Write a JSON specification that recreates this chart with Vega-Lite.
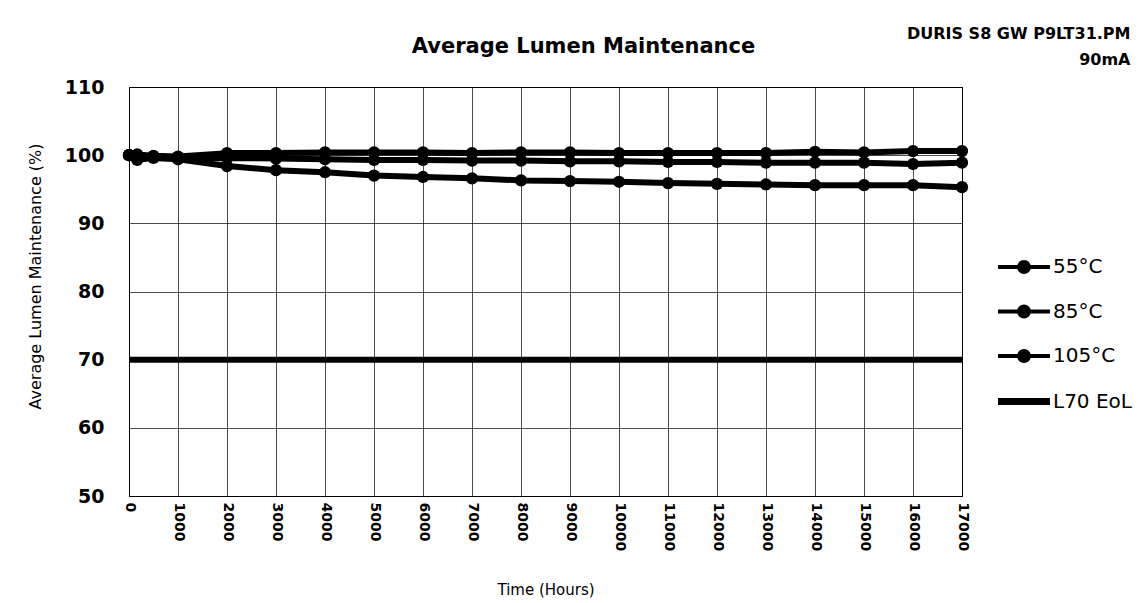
{
  "$schema": "https://vega.github.io/schema/vega-lite/v6.json",
  "width": 833,
  "height": 409,
  "autosize": {"type": "none"},
  "padding": {"left": 129, "top": 87, "right": 183, "bottom": 107},
  "background": "white",
  "config": {"view": {"stroke": "black", "strokeWidth": 1}, "font": "DejaVu Sans"},
  "data": {"values": [
    {"series": "55°C", "hours": 0, "pct": 100.0},
    {"series": "55°C", "hours": 168, "pct": 100.1},
    {"series": "55°C", "hours": 500, "pct": 99.9},
    {"series": "55°C", "hours": 1000, "pct": 99.8},
    {"series": "55°C", "hours": 2000, "pct": 100.3},
    {"series": "55°C", "hours": 3000, "pct": 100.3},
    {"series": "55°C", "hours": 4000, "pct": 100.4},
    {"series": "55°C", "hours": 5000, "pct": 100.4},
    {"series": "55°C", "hours": 6000, "pct": 100.4},
    {"series": "55°C", "hours": 7000, "pct": 100.3},
    {"series": "55°C", "hours": 8000, "pct": 100.4},
    {"series": "55°C", "hours": 9000, "pct": 100.4},
    {"series": "55°C", "hours": 10000, "pct": 100.3},
    {"series": "55°C", "hours": 11000, "pct": 100.3},
    {"series": "55°C", "hours": 12000, "pct": 100.3},
    {"series": "55°C", "hours": 13000, "pct": 100.3},
    {"series": "55°C", "hours": 14000, "pct": 100.5},
    {"series": "55°C", "hours": 15000, "pct": 100.4},
    {"series": "55°C", "hours": 16000, "pct": 100.6},
    {"series": "55°C", "hours": 17000, "pct": 100.6},
    {"series": "85°C", "hours": 0, "pct": 100.0},
    {"series": "85°C", "hours": 168, "pct": 99.6},
    {"series": "85°C", "hours": 500, "pct": 99.7},
    {"series": "85°C", "hours": 1000, "pct": 99.5},
    {"series": "85°C", "hours": 2000, "pct": 99.6},
    {"series": "85°C", "hours": 3000, "pct": 99.5},
    {"series": "85°C", "hours": 4000, "pct": 99.4},
    {"series": "85°C", "hours": 5000, "pct": 99.3},
    {"series": "85°C", "hours": 6000, "pct": 99.3},
    {"series": "85°C", "hours": 7000, "pct": 99.2},
    {"series": "85°C", "hours": 8000, "pct": 99.2},
    {"series": "85°C", "hours": 9000, "pct": 99.1},
    {"series": "85°C", "hours": 10000, "pct": 99.1},
    {"series": "85°C", "hours": 11000, "pct": 99.0},
    {"series": "85°C", "hours": 12000, "pct": 99.0},
    {"series": "85°C", "hours": 13000, "pct": 98.9},
    {"series": "85°C", "hours": 14000, "pct": 98.9},
    {"series": "85°C", "hours": 15000, "pct": 98.9},
    {"series": "85°C", "hours": 16000, "pct": 98.7},
    {"series": "85°C", "hours": 17000, "pct": 98.9},
    {"series": "105°C", "hours": 0, "pct": 100.0},
    {"series": "105°C", "hours": 168, "pct": 99.3},
    {"series": "105°C", "hours": 500, "pct": 99.6},
    {"series": "105°C", "hours": 1000, "pct": 99.4},
    {"series": "105°C", "hours": 2000, "pct": 98.4},
    {"series": "105°C", "hours": 3000, "pct": 97.8},
    {"series": "105°C", "hours": 4000, "pct": 97.5},
    {"series": "105°C", "hours": 5000, "pct": 97.0},
    {"series": "105°C", "hours": 6000, "pct": 96.8},
    {"series": "105°C", "hours": 7000, "pct": 96.6},
    {"series": "105°C", "hours": 8000, "pct": 96.3},
    {"series": "105°C", "hours": 9000, "pct": 96.2},
    {"series": "105°C", "hours": 10000, "pct": 96.1},
    {"series": "105°C", "hours": 11000, "pct": 95.9},
    {"series": "105°C", "hours": 12000, "pct": 95.8},
    {"series": "105°C", "hours": 13000, "pct": 95.7},
    {"series": "105°C", "hours": 14000, "pct": 95.6},
    {"series": "105°C", "hours": 15000, "pct": 95.6},
    {"series": "105°C", "hours": 16000, "pct": 95.6},
    {"series": "105°C", "hours": 17000, "pct": 95.3},
    {"series": "L70 EoL", "hours": 0, "pct": 70},
    {"series": "L70 EoL", "hours": 17000, "pct": 70}
  ]},
  "layer": [
    {
      "mark": {"type": "line", "strokeWidth": 6, "strokeJoin": "round"},
      "encoding": {
        "x": {
          "field": "hours", "type": "quantitative",
          "scale": {"domain": [0, 17000], "nice": false, "zero": false},
          "axis": {
            "orient": "bottom",
            "values": [0, 1000, 2000, 3000, 4000, 5000, 6000, 7000, 8000, 9000, 10000, 11000, 12000, 13000, 14000, 15000, 16000, 17000],
            "format": "d", "labelAngle": 90, "labelFont": "DejaVu Sans", "labelFontWeight": "bold",
            "labelFontSize": 14, "labelColor": "black", "labelPadding": 6, "ticks": false,
            "domainColor": "black", "gridColor": "black", "gridOpacity": 0.7, "labelFlush": false, "labelOverlap": false,
            "title": "Time (Hours)", "titleFont": "DejaVu Sans", "titleFontSize": 15, "titleFontWeight": "normal",
            "titleColor": "black", "titleY": 86, "titleBaseline": "top"
          }
        },
        "y": {
          "field": "pct", "type": "quantitative",
          "scale": {"domain": [50, 110], "nice": false, "zero": false},
          "axis": {
            "values": [50, 60, 70, 80, 90, 100, 110],
            "labelFont": "DejaVu Sans", "labelFontWeight": "bold", "labelFontSize": 19, "labelColor": "black",
            "labelPadding": 25, "ticks": false, "domainColor": "black", "gridColor": "black", "gridOpacity": 0.7,
            "title": "Average Lumen Maintenance (%)", "titleFont": "DejaVu Sans", "titleFontSize": 16,
            "titleFontWeight": "normal", "titleColor": "black", "titleX": -94, "titleY": 189,
            "titleBaseline": "middle", "titleAlign": "center"
          }
        },
        "color": {
          "field": "series", "type": "nominal",
          "scale": {"domain": ["55°C", "85°C", "105°C", "L70 EoL"], "range": ["black", "black", "black", "black"]},
          "legend": {
            "orient": "none", "legendX": 869, "legendY": 170, "title": null,
            "symbolSize": 2704, "symbolStrokeWidth": 4, "symbolType": "stroke",
            "labelFont": "DejaVu Sans", "labelFontSize": 20, "labelColor": "black", "labelOffset": 3,
            "rowPadding": 18.5,
            "encode": {
              "symbols": {
                "update": {
                  "x": {"value": 26},
                  "shape": {"signal": "datum.value === 'L70 EoL' ? 'M-1,0H1' : 'M-1,0H1M0.19,0A0.19,0.19,0,1,1,-0.19,0A0.19,0.19,0,1,1,0.19,0Z'"},
                  "fill": {"value": "black"},
                  "stroke": {"value": "black"},
                  "strokeWidth": {"signal": "datum.value === 'L70 EoL' ? 7 : 4"},
                  "opacity": {"value": 1}
                }
              },
              "labels": {
                "update": {
                  "x": {"value": 55}
                }
              }
            }
          }
        }
      }
    },
    {
      "transform": [{"filter": "datum.series !== 'L70 EoL'"}],
      "mark": {"type": "point", "filled": true, "size": 150, "color": "black", "opacity": 1},
      "encoding": {
        "x": {
          "field": "hours", "type": "quantitative",
          "axis": {
            "orient": "top", "domain": false, "ticks": false, "labels": false, "grid": false,
            "title": "Average Lumen Maintenance", "titleFont": "DejaVu Sans", "titleFontSize": 21,
            "titleFontWeight": "bold", "titleColor": "black", "titleX": 454, "titleY": -35,
            "titleBaseline": "alphabetic", "titleAlign": "center"
          }
        },
        "y": {
          "field": "pct", "type": "quantitative",
          "axis": {
            "orient": "right", "domain": false, "ticks": false, "labels": false, "grid": false,
            "title": ["DURIS S8 GW P9LT31.PM", "90mA"], "titleFont": "DejaVu Sans", "titleFontSize": 16,
            "titleFontWeight": "bold", "titleColor": "black", "titleAngle": 0, "titleAlign": "right",
            "titleX": 168, "titleY": -49, "titleBaseline": "alphabetic", "titleLineHeight": 26
          }
        }
      }
    }
  ],
  "resolve": {"axis": {"x": "independent", "y": "independent"}}
}
